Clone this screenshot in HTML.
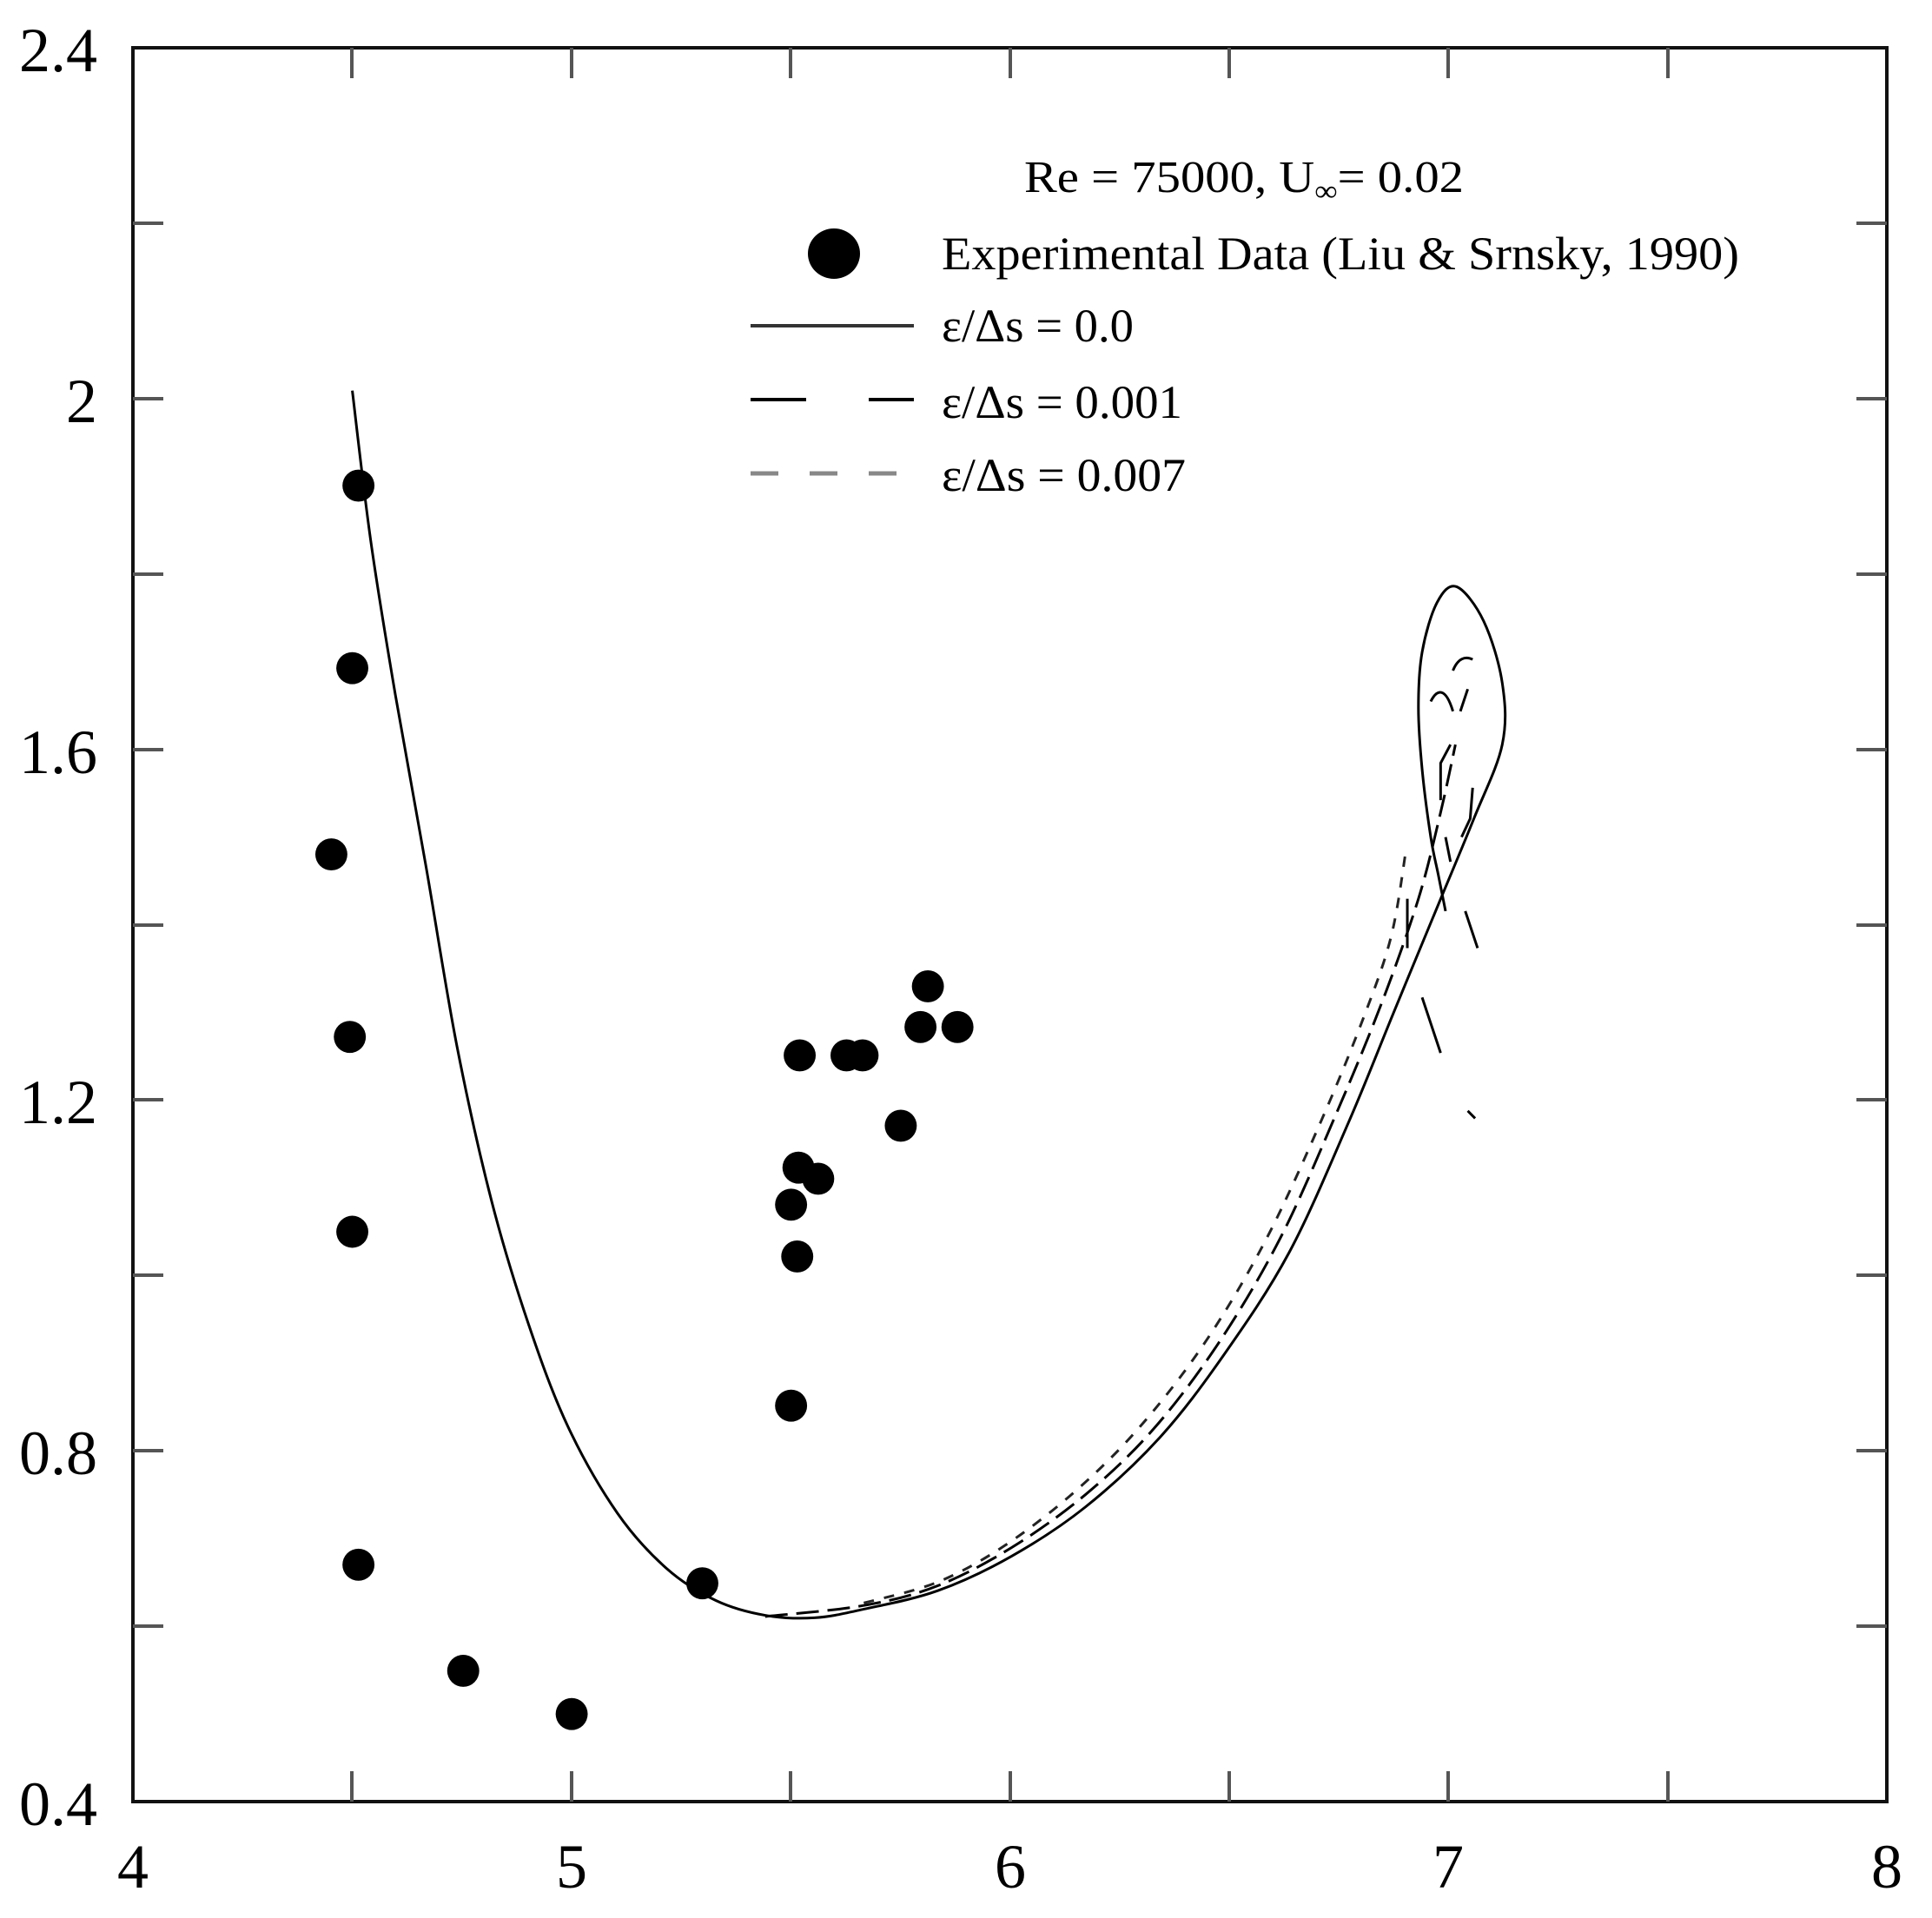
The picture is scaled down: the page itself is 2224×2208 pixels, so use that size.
<!DOCTYPE html>
<html><head><meta charset="utf-8"><style>
html,body{margin:0;padding:0;background:#fff;}
svg{display:block;}
text{font-family:"Liberation Serif",serif;fill:#000;}
</style></head><body>
<svg width="2224" height="2208" viewBox="0 0 2224 2208" xmlns="http://www.w3.org/2000/svg">
<rect width="2224" height="2208" fill="#fff"/>
<rect x="153" y="55" width="2019" height="2019" fill="none" stroke="#111" stroke-width="4"/>
<g stroke="#555" stroke-width="4">
<line x1="405" y1="55" x2="405" y2="90"/><line x1="405" y1="2074" x2="405" y2="2039"/>
<line x1="658" y1="55" x2="658" y2="90"/><line x1="658" y1="2074" x2="658" y2="2039"/>
<line x1="910" y1="55" x2="910" y2="90"/><line x1="910" y1="2074" x2="910" y2="2039"/>
<line x1="1163" y1="55" x2="1163" y2="90"/><line x1="1163" y1="2074" x2="1163" y2="2039"/>
<line x1="1415" y1="55" x2="1415" y2="90"/><line x1="1415" y1="2074" x2="1415" y2="2039"/>
<line x1="1667" y1="55" x2="1667" y2="90"/><line x1="1667" y1="2074" x2="1667" y2="2039"/>
<line x1="1920" y1="55" x2="1920" y2="90"/><line x1="1920" y1="2074" x2="1920" y2="2039"/>
<line x1="153" y1="257" x2="188" y2="257"/><line x1="2172" y1="257" x2="2137" y2="257"/>
<line x1="153" y1="459" x2="188" y2="459"/><line x1="2172" y1="459" x2="2137" y2="459"/>
<line x1="153" y1="661" x2="188" y2="661"/><line x1="2172" y1="661" x2="2137" y2="661"/>
<line x1="153" y1="863" x2="188" y2="863"/><line x1="2172" y1="863" x2="2137" y2="863"/>
<line x1="153" y1="1065" x2="188" y2="1065"/><line x1="2172" y1="1065" x2="2137" y2="1065"/>
<line x1="153" y1="1266" x2="188" y2="1266"/><line x1="2172" y1="1266" x2="2137" y2="1266"/>
<line x1="153" y1="1468" x2="188" y2="1468"/><line x1="2172" y1="1468" x2="2137" y2="1468"/>
<line x1="153" y1="1670" x2="188" y2="1670"/><line x1="2172" y1="1670" x2="2137" y2="1670"/>
<line x1="153" y1="1872" x2="188" y2="1872"/><line x1="2172" y1="1872" x2="2137" y2="1872"/>
</g>
<g font-size="72" text-anchor="end">
<text x="112" y="82">2.4</text>
<text x="112" y="486">2</text>
<text x="112" y="890">1.6</text>
<text x="112" y="1293">1.2</text>
<text x="112" y="1697">0.8</text>
<text x="112" y="2101">0.4</text>
</g>
<g font-size="72" text-anchor="middle">
<text x="153" y="2173">4</text>
<text x="658" y="2173">5</text>
<text x="1163" y="2173">6</text>
<text x="1667" y="2173">7</text>
<text x="2172" y="2173">8</text>
</g>
<text x="1179" y="221" font-size="52" textLength="506" lengthAdjust="spacingAndGlyphs">Re = 75000, U<tspan font-size="34" dy="10">∞</tspan><tspan dy="-10">= 0.02</tspan></text>
<ellipse cx="960" cy="292" rx="30" ry="29" fill="#000"/>
<text x="1084" y="310" font-size="54" textLength="918" lengthAdjust="spacingAndGlyphs">Experimental Data (Liu &amp; Srnsky, 1990)</text>
<line x1="864" y1="375" x2="1052" y2="375" stroke="#333" stroke-width="4"/>
<text x="1084" y="393" font-size="54" textLength="221" lengthAdjust="spacingAndGlyphs">ε/Δs = 0.0</text>
<line x1="864" y1="460" x2="928" y2="460" stroke="#000" stroke-width="4"/>
<line x1="1000" y1="460" x2="1052" y2="460" stroke="#000" stroke-width="4"/>
<text x="1084" y="481" font-size="54" textLength="277" lengthAdjust="spacingAndGlyphs">ε/Δs = 0.001</text>
<g stroke="#888" stroke-width="5"><line x1="864" y1="545" x2="896" y2="545"/><line x1="932" y1="545" x2="964" y2="545"/><line x1="1000" y1="545" x2="1032" y2="545"/></g>
<text x="1084" y="565" font-size="54" textLength="281" lengthAdjust="spacingAndGlyphs">ε/Δs = 0.007</text>

<g transform="translate(153,55) scale(1.4188,1.4198) translate(-107,-40)">
<g fill="none" stroke="#000" stroke-width="3">
<path id="solid" vector-effect="non-scaling-stroke" d=""/>
<path id="d1" vector-effect="non-scaling-stroke" stroke-dasharray="26 10" d=""/>
<path id="d2" vector-effect="non-scaling-stroke" stroke="#222" stroke-dasharray="12 12" d=""/>
<path vector-effect="non-scaling-stroke" d="M1160,570 C1165,560 1172,558 1178,578"/>
<path vector-effect="non-scaling-stroke" d="M1178,545 C1182,535 1188,533 1194,536"/>
<path vector-effect="non-scaling-stroke" d="M1190,560 L1184,578"/>
<path vector-effect="non-scaling-stroke" d="M1176,605 L1168,620 L1168,650"/>
<path vector-effect="non-scaling-stroke" d="M1194,640 L1192,665 L1185,680"/>
<path vector-effect="non-scaling-stroke" d="M1172,680 L1176,700"/>
<path vector-effect="non-scaling-stroke" d="M1188,740 L1198,770"/>
<path vector-effect="non-scaling-stroke" d="M1153,810 L1168,855"/>
<path vector-effect="non-scaling-stroke" d="M1190,902 L1196,908"/>
<path vector-effect="non-scaling-stroke" d="M1141,770 L1141,730"/>
</g>
<g fill="#000">
<circle cx="290" cy="395" r="13"/>
<circle cx="285" cy="543" r="13"/>
<circle cx="268" cy="694" r="13"/>
<circle cx="283" cy="842" r="13"/>
<circle cx="285" cy="1000" r="13"/>
<circle cx="290" cy="1270" r="13"/>
<circle cx="375" cy="1356" r="13"/>
<circle cx="463" cy="1391" r="13"/>
<circle cx="569" cy="1285" r="13"/>
<circle cx="641" cy="1141" r="13"/>
<circle cx="646" cy="1020" r="13"/>
<circle cx="641" cy="978" r="13"/>
<circle cx="647" cy="948" r="13"/>
<circle cx="663" cy="957" r="13"/>
<circle cx="648" cy="857" r="13"/>
<circle cx="686" cy="857" r="13"/>
<circle cx="699" cy="857" r="13"/>
<circle cx="730" cy="914" r="13"/>
<circle cx="746" cy="834" r="13"/>
<circle cx="752" cy="801" r="13"/>
<circle cx="776" cy="834" r="13"/>
</g>
</g>
</svg>
<script>
function cr(p){var d="M"+p[0][0]+","+p[0][1];for(var i=0;i<p.length-1;i++){var a=p[i-1]||p[i],b=p[i],c=p[i+1],e=p[i+2]||c;d+=" C"+(b[0]+(c[0]-a[0])/6)+","+(b[1]+(c[1]-a[1])/6)+" "+(c[0]-(e[0]-b[0])/6)+","+(c[1]-(e[1]-b[1])/6)+" "+c[0]+","+c[1];}return d;}
document.getElementById("solid").setAttribute("d",cr([[285,318],[300,440],[320,565],[345,705],[370,850],[398,975],[428,1075],[460,1158],[500,1228],[540,1273],[580,1299],[620,1311],[660,1313],[700,1306],[760,1291],[820,1263],[880,1223],[940,1167],[992,1100],[1045,1017],[1093,912],[1130,822],[1166,735],[1195,665],[1218,605],[1218,555],[1203,505],[1181,477],[1165,490],[1153,530],[1150,575],[1153,625],[1160,680],[1166,710],[1172,740]]));
document.getElementById("d1").setAttribute("d",cr([[620,1312],[700,1303],[760,1287],[820,1256],[880,1213],[935,1160],[988,1090],[1038,1005],[1083,905],[1120,815],[1150,730],[1168,660],[1180,605]]));
document.getElementById("d2").setAttribute("d",cr([[700,1301],[760,1284],[815,1254],[872,1210],[925,1157],[978,1088],[1027,1005],[1072,908],[1106,825],[1128,760],[1140,690]]));
</script>
</body></html>
